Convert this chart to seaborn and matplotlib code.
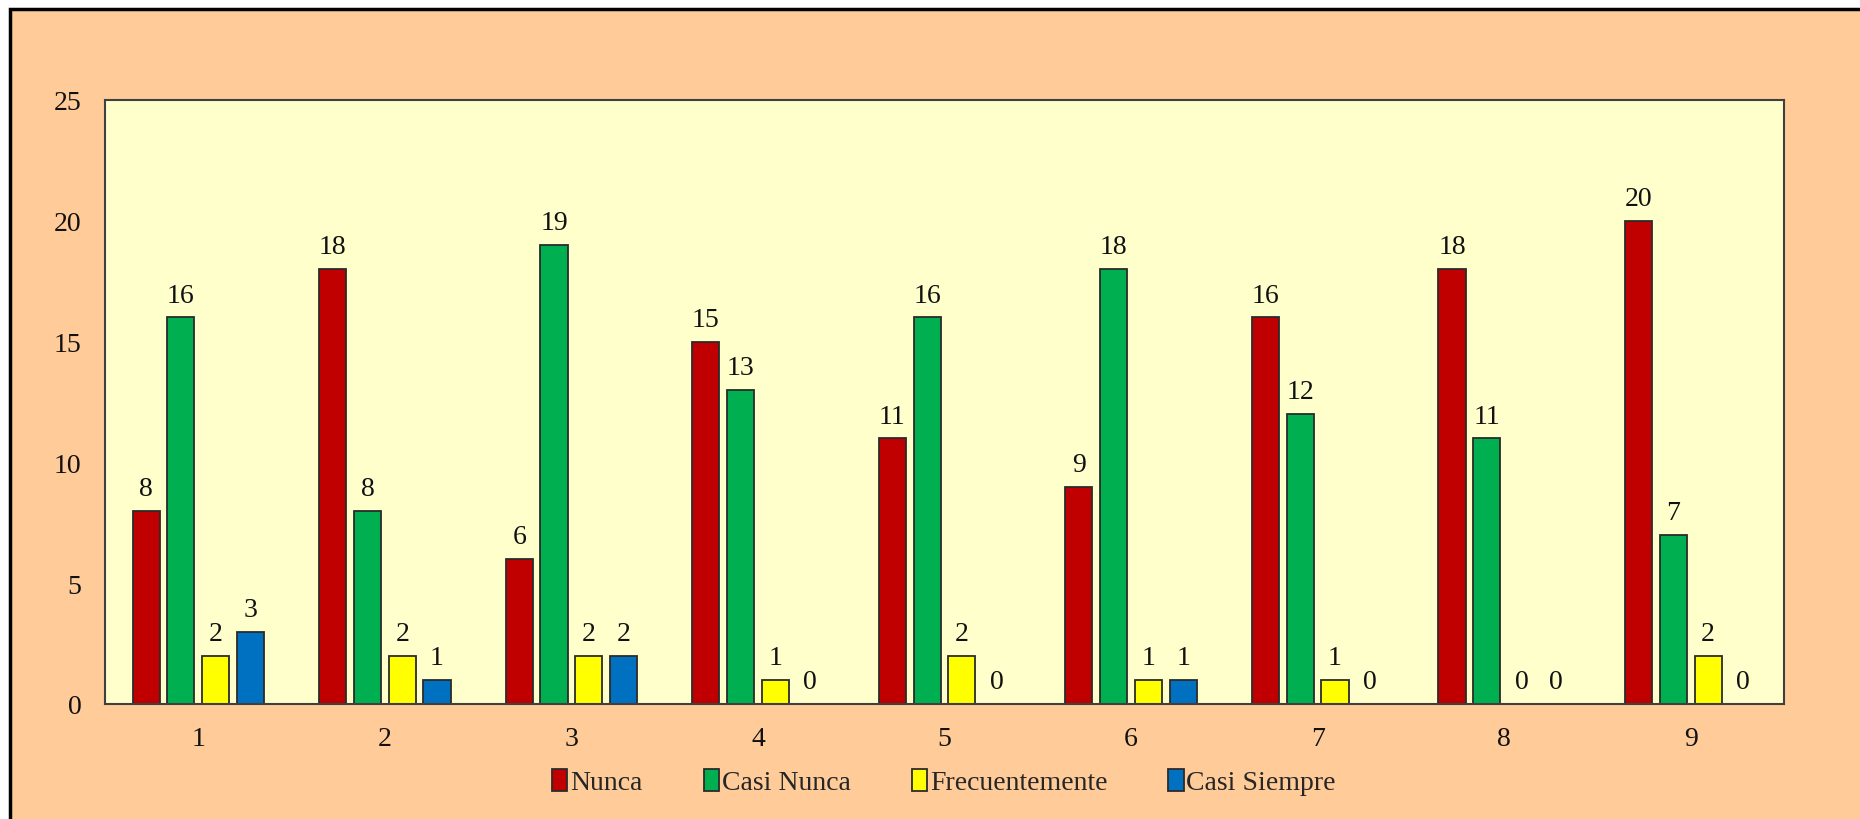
import numpy as np
import pandas as pd
import matplotlib
matplotlib.use("Agg")
import matplotlib.pyplot as plt
from matplotlib.patches import Rectangle
import seaborn as sns

# ---- data ----
items = ["1", "2", "3", "4", "5", "6", "7", "8", "9"]
nunca = [8, 18, 6, 15, 11, 9, 16, 18, 20]
casi_nunca = [16, 8, 19, 13, 16, 18, 12, 11, 7]
frecuentemente = [2, 2, 2, 1, 2, 1, 1, 0, 2]
casi_siempre = [3, 1, 2, 0, 0, 1, 0, 0, 0]

series = ["Nunca", "Casi Nunca", "Frecuentemente", "Casi Siempre"]
COLORS = ["#C00000", "#00B050", "#FFFF00", "#0070C0"]

df = pd.DataFrame({
    "item": items * 4,
    "serie": np.repeat(series, len(items)),
    "valor": nunca + casi_nunca + frecuentemente + casi_siempre,
})

sns.set_theme(style="white")
plt.rcParams["font.family"] = ["Liberation Serif", "DejaVu Serif"]
FS = 20

fig = plt.figure(figsize=(18.6, 8.2), dpi=100, facecolor="white")
# peach background with black border on top and left (as in the crop)
fig.patches.append(Rectangle((10 / 1860, -0.1), 1.2, 1.1 - 10 / 820,
                             transform=fig.transFigure, facecolor="#FFCC99",
                             edgecolor="black", linewidth=2.5, zorder=-10))

ax = fig.add_axes([105 / 1860, 1 - 705 / 820, 1679 / 1860, 604 / 820])
ax.set_facecolor("#FFFFCC")

sns.barplot(data=df, x="item", y="valor", hue="serie", hue_order=series,
            palette=COLORS, width=0.745, gap=0.22, edgecolor="#2b2b2b",
            linewidth=1.3, saturation=1, ax=ax)

for cont in ax.containers:
    for p in cont.patches:
        if p.get_height() == 0:
            p.set_linewidth(0)
    ax.bar_label(cont, fmt="%d", padding=7, fontsize=FS, color="#111111")

ax.set_ylim(0, 25)
ax.set_yticks([0, 5, 10, 15, 20, 25])
ax.set_xlabel("")
ax.set_ylabel("")
ax.tick_params(axis="both", length=0, labelsize=FS, colors="#111111")
ax.tick_params(axis="y", pad=17)
ax.tick_params(axis="x", pad=16)
for s in ax.spines.values():
    s.set_color("#404040")
    s.set_linewidth(1.5)

handles, labels = ax.get_legend_handles_labels()
ax.legend_.remove()
fig.legend(handles, labels, loc="center", bbox_to_anchor=(944 / 1860, 1 - 783 / 820),
           ncol=4, frameon=False, fontsize=FS, handlelength=0.55, handleheight=0.85,
           handletextpad=0.1, columnspacing=2.2)

fig.savefig("out.png", dpi=100, facecolor=fig.get_facecolor())
